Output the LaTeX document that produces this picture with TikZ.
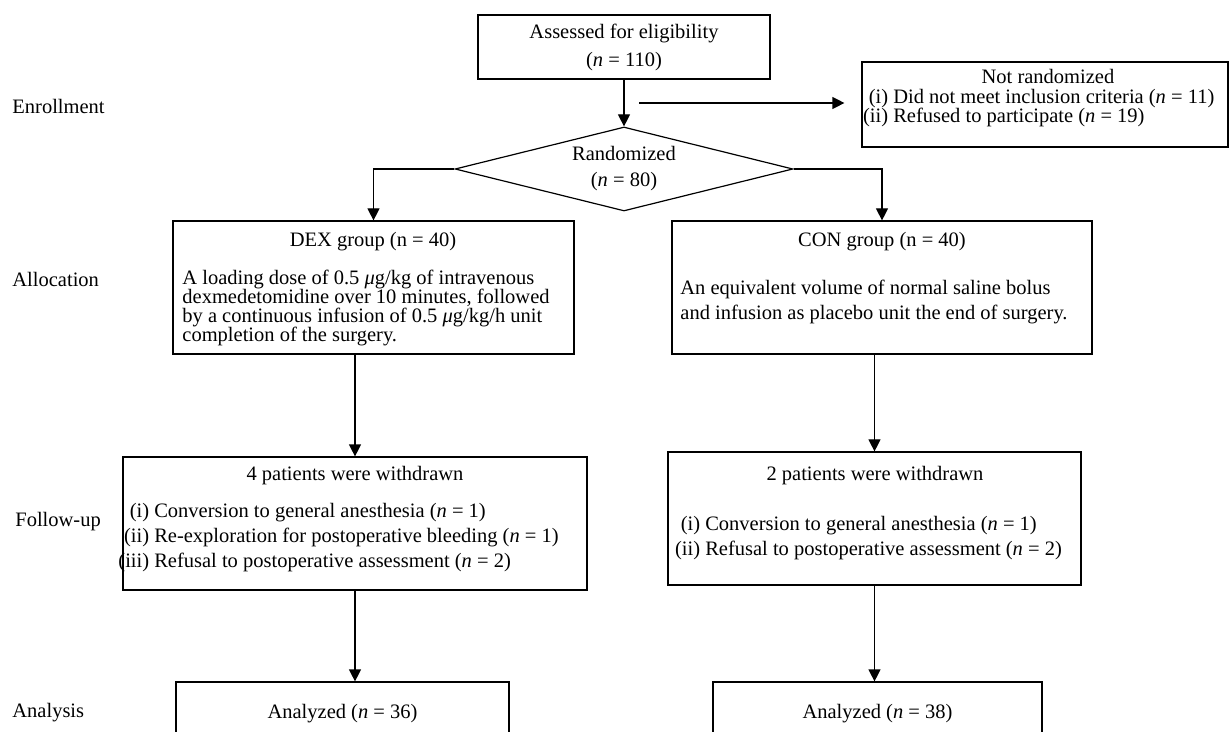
\documentclass[tikz,border=0pt]{standalone}
\usepackage{fontspec}
\setmainfont{Liberation Serif}
\usetikzlibrary{shapes.geometric,arrows.meta,calc}
\setlength{\lineskiplimit}{-6pt}
\newcommand{\nn}[1]{(\textit{n} = #1)}
\newcommand{\lbl}[1]{\makebox[1.55em][r]{#1}\ }
\newcommand{\mug}{\textit{μ}g}

\begin{document}
\begin{tikzpicture}[x=0.5pt,y=-0.5pt]
        \tikzstyle{every node}=[inner sep=0pt, font=\fontsize{10.25}{12.5}\selectfont]
        \tikzstyle{box}=[draw, line width=0.6pt]
        \tikzstyle{arr}=[-{Triangle[length=6pt,width=6pt]}, line width=0.6pt]
        \tikzstyle{stage}=[anchor=west]
        \tikzstyle{list}=[anchor=west, align=left]
        \useasboundingbox (0,0) rectangle (1231,732);
        \clip (0,0) rectangle (1231,732);

        % stage labels
        \node[stage] (enr) at (12,106) {Enrollment};
        \node[stage] (alc) at (12,279) {Allocation};
        \node[stage] (fup) at (15,522) {Follow-up};
        \node[stage] (ana) at (12,713) {Analysis};

        % enrollment
        \node[box, minimum width=146pt, minimum height=32pt, align=center,
            font=\fontsize{10.25}{14}\selectfont] (assess) at (624,47)
            {Assessed for eligibility\\\nn{110}};
        \node[box, diamond, aspect=4, minimum width=169pt, minimum height=42pt,
            align=center, font=\fontsize{10.25}{13}\selectfont] (rand) at (624,169)
            {Randomized\\\nn{80}};
        \node[box, minimum width=183pt, minimum height=42.5pt] (notr) at (1045,104.5) {};
        \node (notrt) at (1048,76) {Not randomized};
        \node[list, font=\fontsize{10.25}{9.5}\selectfont] (notrl) at (856,108)
            {\lbl{(i)}Did not meet inclusion criteria \nn{11}\\
             \lbl{(ii)}Refused to participate \nn{19}};

        % allocation
        \node[box, minimum width=200.5pt, minimum height=66.5pt] (dex) at (373.5,287.5) {};
        \node (dext) at (373,242) {DEX group (n = 40)};
        \node[list, font=\fontsize{10.25}{9.5}\selectfont] (dexb) at (182,308)
            {A loading dose of 0.5 \mug/kg of intravenous\\
             dexmedetomidine over 10 minutes, followed\\
             by a continuous infusion of 0.5 \mug/kg/h unit\\
             completion of the surgery.};
        \node[box, minimum width=210pt, minimum height=66.5pt] (con) at (882,287.5) {};
        \node (cont) at (882,242) {CON group (n = 40)};
        \node[list] (conb) at (680,301.5)
            {An equivalent volume of normal saline bolus\\
             and infusion as placebo unit the end of surgery.};

        % follow-up
        \node[box, minimum width=232pt, minimum height=66.5pt] (wdl) at (355,523.5) {};
        \node (wdlt) at (355,476) {4 patients were withdrawn};
        \node[list] (wdll) at (117,538)
            {\lbl{(i)}Conversion to general anesthesia \nn{1}\\
             \lbl{(ii)}Re-exploration for postoperative bleeding \nn{1}\\
             \lbl{(iii)}Refusal to postoperative assessment \nn{2}};
        \node[box, minimum width=206.5pt, minimum height=66.5pt] (wdr) at (874.5,518.5) {};
        \node (wdrt) at (875,476) {2 patients were withdrawn};
        \node[list] (wdrl) at (668,538.5)
            {\lbl{(i)}Conversion to general anesthesia \nn{1}\\
             \lbl{(ii)}Refusal to postoperative assessment \nn{2}};

        % analysis
        \node[box, minimum width=166.5pt, minimum height=32pt] (anl) at (342.5,714) {Analyzed \nn{36}};
        \node[box, minimum width=164.5pt, minimum height=32pt] (anr) at (877.5,714) {Analyzed \nn{38}};

        % arrows
        \coordinate (nrs) at (639,103);
        \draw[arr] (nrs) -- ($(nrs -| notr.west)+(-17,0)$);
        \draw[arr] (assess.south) -- (rand.north);
        \draw[arr] (rand.west) -| (dex.north);
        \draw[arr] (rand.east) -| (con.north);
        \draw[arr] (wdl.north |- dex.south) -- (wdl.north);
        \draw[arr] (wdr.north |- con.south) -- (wdr.north);
        \draw[arr] (wdl.south) -- (wdl.south |- anl.north);
        \draw[arr] (wdr.south) -- (wdr.south |- anr.north);
\end{tikzpicture}
\end{document}
